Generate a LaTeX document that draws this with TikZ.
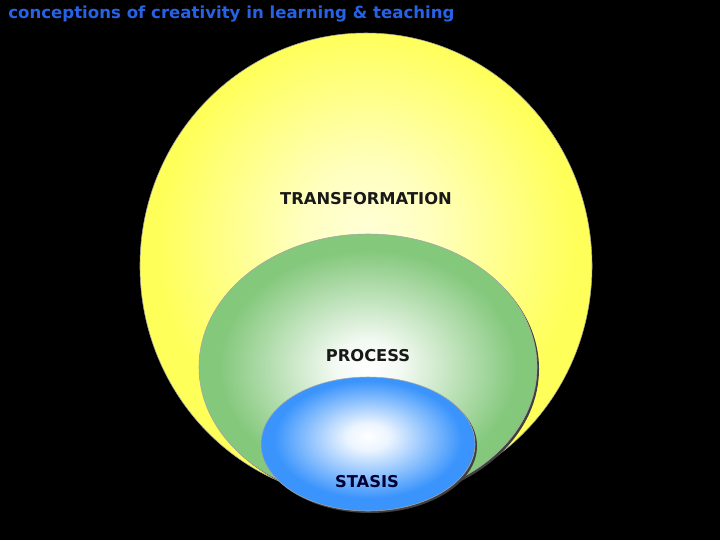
\documentclass[tikz,border=0pt]{standalone}
\usepackage{fontspec}
\setmainfont{DejaVu Sans}
\definecolor{titleblue}{RGB}{38,98,228}
\definecolor{sunyellow}{RGB}{255,255,90}
\definecolor{leafgreen}{RGB}{132,200,124}
\definecolor{skyblue}{RGB}{58,148,252}
\pgfdeclareradialshading{yellowglow}{\pgfpoint{0bp}{4bp}}{color(0bp)=(white!75!sunyellow); color(7bp)=(white!62!sunyellow); color(23bp)=(sunyellow); color(50bp)=(sunyellow)}
\pgfdeclareradialshading{greenglow}{\pgfpoint{0bp}{0bp}}{color(0bp)=(white); color(5bp)=(white!90!leafgreen); color(22bp)=(leafgreen); color(50bp)=(leafgreen)}
\pgfdeclareradialshading{blueglow}{\pgfpoint{0bp}{3bp}}{color(0bp)=(white); color(5bp)=(white!90!skyblue); color(22bp)=(skyblue); color(50bp)=(skyblue)}

\begin{document}
\begin{tikzpicture}[x=0.025cm,y=-0.025cm,
    lbl/.style={font=\bfseries\fontsize{11.6}{14}\selectfont, text=black!90},
    rim/.style={draw=gray!70, line width=0.4pt},
    drop/.style={fill=black!75}]
    \fill[black] (0,0) rectangle (720,540);
    % nested ellipses
    \shade[shading=yellowglow, rim] (366,266) ellipse [x radius=226, y radius=233];
    \fill[drop] (370,369) ellipse [x radius=169, y radius=133];
    \shade[shading=greenglow, rim] (368,367) ellipse [x radius=169, y radius=133];
    \fill[drop] (370,446) ellipse [x radius=107, y radius=67];
    \shade[shading=blueglow, rim] (368,444) ellipse [x radius=107, y radius=67];
    % labels
    \node[lbl] (transf) at (366,199) {TRANSFORMATION};
    \node[lbl] (proc) at (368,356) {PROCESS};
    \node[lbl, text=black!80!blue] (stasis) at (367,482) {STASIS};
    \node[anchor=west, inner sep=0pt, text=titleblue,
        font=\bfseries\fontsize{11.8}{14}\selectfont] (title) at (8,14)
        {conceptions of creativity in learning \& teaching};
\end{tikzpicture}
\end{document}
